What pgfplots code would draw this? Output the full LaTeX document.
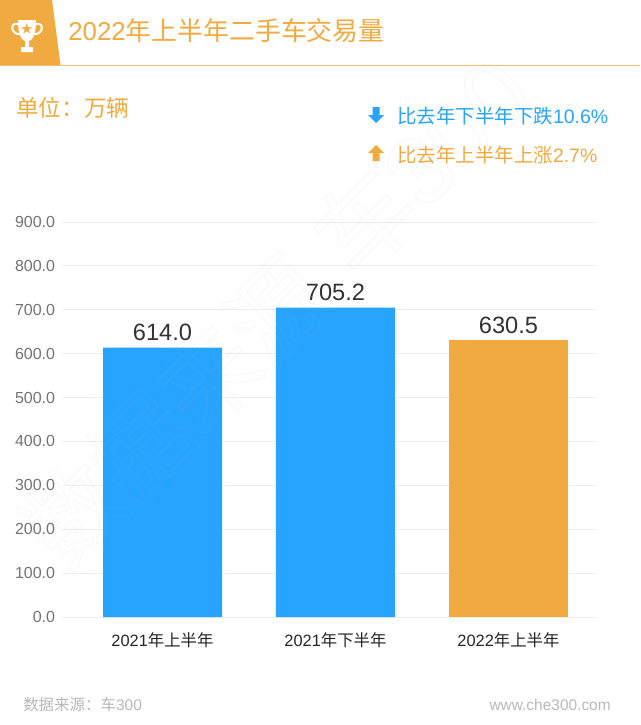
\documentclass[border=0pt]{standalone}
\usepackage{fontspec}
\setmainfont{Liberation Sans}
\newfontfamily\cjk{Noto Sans CJK SC}
\usepackage{pgfplots}
\pgfplotsset{compat=1.18}
\definecolor{barblue}{HTML}{26A4FF}
\definecolor{barorange}{HTML}{F0AA3F}
\definecolor{gridc}{HTML}{EDEDED}
\definecolor{headline}{HTML}{F5C170}
\pgfplotstableread{
x y
0 614.0
1 705.2
}\blueseries
\pgfplotstableread{
x y
2 630.5
}\orangeseries
\begin{document}
\begin{tikzpicture}[x=0.75pt,y=-0.75pt]
\path[use as bounding box] (0,0) rectangle (640,725);
\begin{axis}[
    at={(46.5pt,-462.75pt)},
    anchor=south west,
    scale only axis,
    width=400.5pt,
    height=296.25pt,
    xmin=-0.581,
    xmax=2.506,
    ymin=0,
    ymax=900,
    ybar,
    bar shift=0pt,
    bar width=89.25pt,
    xtick={0,1,2},
    xticklabels={2021{\cjk 年上半年},2021{\cjk 年下半年},2022{\cjk 年上半年}},
    ytick={0,100,...,900},
    major tick length=0pt,
    axis line style={draw=none},
    ymajorgrids,
    grid style={gridc,line width=0.75pt},
    clip=false,
    /pgf/number format/assume math mode=true,
    /pgf/number format/.cd,fixed,fixed zerofill,precision=1,1000 sep={},
    /pgfplots/.cd,
    yticklabel style={font=\fontsize{12}{14}\selectfont,text=black!55,inner sep=0pt,xshift=-5pt},
    xticklabel style={font=\fontsize{12.3}{14}\selectfont,text=black!85,yshift=-8pt},
    nodes near coords,
    every node near coord/.append style={font=\fontsize{17.7}{20}\selectfont,text=black!80,inner sep=0pt,yshift=5pt},
]
\addplot[fill=barblue,draw=none] table[x=x,y=y] {\blueseries};
\addplot[fill=barorange,draw=none] table[x=x,y=y] {\orangeseries};
\end{axis}
% header
\fill[barorange] (0,0) -- (52,0) -- (60.5,65) -- (0,65) -- cycle;
\fill[headline] (0,64.5) rectangle (640,66);
% trophy
\fill[white] (18,20) -- (36,20) .. controls (36,36) and (32,40) .. (29,41) -- (29,47) -- (33,47) -- (33,52) -- (21,52) -- (21,47) -- (25,47) -- (25,41) .. controls (22,40) and (18,36) .. (18,20) -- cycle;
\draw[white,line width=1.5pt] (18,24) .. controls (9,22) and (11,35) .. (20,34);
\draw[white,line width=1.5pt] (36,24) .. controls (45,22) and (43,35) .. (34,34);
\node[text=barorange,inner sep=0pt,font=\fontsize{9}{9}\selectfont\cjk] at (27,29) {★};
\node[anchor=west,inner sep=0pt,text=barorange,font=\fontsize{19.4}{22}\selectfont] at (68,31) {2022{\cjk 年上半年二手车交易量}};
\node[anchor=west,inner sep=0pt,text=barorange,font=\fontsize{17}{20}\selectfont\cjk] at (16,108) {单位：万辆};
% change notes
\fill[barblue] (372.5,107) -- (379.5,107) -- (379.5,115) -- (384,115) -- (376,123) -- (368,115) -- (372.5,115) -- cycle;
\node[anchor=west,inner sep=0pt,text=barblue,font=\fontsize{14.6}{17}\selectfont] at (397,116) {{\cjk 比去年下半年下跌}10.6\%};
\fill[barorange] (372.5,161) -- (379.5,161) -- (379.5,153) -- (384,153) -- (376,145) -- (368,153) -- (372.5,153) -- cycle;
\node[anchor=west,inner sep=0pt,text=barorange,font=\fontsize{14.6}{17}\selectfont] at (397,155) {{\cjk 比去年上半年上涨}2.7\%};
% footer
\node[anchor=west,inner sep=0pt,text=black!28,font=\fontsize{11.6}{14}\selectfont] at (23,705) {{\cjk 数据来源：车}300};
\node[anchor=east,inner sep=0pt,text=black!28,font=\fontsize{11.6}{14}\selectfont] at (611,705) {www.che300.com};
% watermark
\node[rotate=45,inner sep=0pt,text=black!30,opacity=0.2,font=\fontsize{72}{80}\selectfont] at (275,310) {\special{pdf:code 1 Tr 0.3 w}{\cjk 数据来源}\hspace{0.3em}{\cjk 车}300\special{pdf:code 0 Tr}};
\end{tikzpicture}
\end{document}
